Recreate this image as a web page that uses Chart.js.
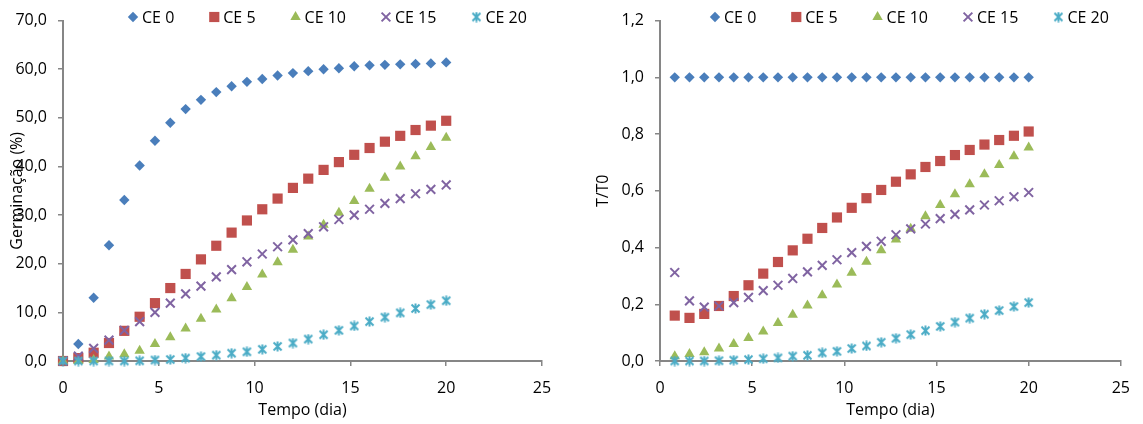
<!DOCTYPE html>
<html lang="pt">
<head>
<meta charset="utf-8">
<title>Germinação e T/T0 ao longo do tempo</title>
<script src="https://cdn.jsdelivr.net/npm/chart.js@4/dist/chart.umd.min.js"></script>
<style>
  html, body { margin: 0; padding: 0; background: #ffffff; }
  body { width: 1143px; height: 424px; position: relative; overflow: hidden; }
  canvas { position: absolute; top: 0; }
  #graficoGerminacao { left: 0; }
  #graficoRelativo { left: 571px; }
</style>
</head>
<body>
<canvas id="graficoGerminacao" width="571" height="424"></canvas>
<canvas id="graficoRelativo" width="572" height="424"></canvas>
<script>
// Tempo de avaliação (dias)
const dias = [0, 0.8, 1.6, 2.4, 3.2, 4.0, 4.8, 5.6, 6.4, 7.2, 8.0, 8.8, 9.6,
              10.4, 11.2, 12.0, 12.8, 13.6, 14.4, 15.2, 16.0, 16.8, 17.6, 18.4, 19.2, 20.0];
const diasRelativos = [0.8, 1.6, 2.4, 3.2, 4.0, 4.8, 5.6, 6.4, 7.2, 8.0, 8.8, 9.6,
              10.4, 11.2, 12.0, 12.8, 13.6, 14.4, 15.2, 16.0, 16.8, 17.6, 18.4, 19.2, 20.0];

// Nomes das séries (condutividade elétrica)
const series = ['CE 0', 'CE 5', 'CE 10', 'CE 15', 'CE 20'];

// Germinação acumulada (%)
const germCE0  = [0, 3.5, 13.0, 23.8, 33.1, 40.2, 45.3, 49.0, 51.8, 53.7, 55.3, 56.5, 57.4,
                  58.0, 58.7, 59.2, 59.6, 60.0, 60.2, 60.6, 60.8, 60.9, 61.0, 61.1, 61.2, 61.4];
const germCE5  = [0, 0.6, 1.7, 3.7, 6.2, 9.1, 11.9, 15.0, 17.9, 20.9, 23.7, 26.4, 28.9,
                  31.2, 33.4, 35.6, 37.5, 39.3, 40.9, 42.4, 43.8, 45.1, 46.3, 47.5, 48.4, 49.4];
const germCE10 = [0, 0, 0.2, 0.9, 1.4, 2.1, 3.5, 4.9, 6.7, 8.7, 10.6, 12.9, 15.2,
                  17.8, 20.3, 22.9, 25.6, 28.0, 30.5, 32.9, 35.4, 37.7, 40.0, 42.1, 44.0, 45.9];
const germCE15 = [0, 1.0, 2.6, 4.3, 6.3, 8.1, 10.0, 11.9, 13.8, 15.4, 17.3, 18.8, 20.4,
                  22.0, 23.5, 24.9, 26.2, 27.6, 29.1, 30.0, 31.2, 32.4, 33.4, 34.4, 35.3, 36.2];
const germCE20 = [0, 0, 0, 0, 0, 0.05, 0.2, 0.3, 0.6, 0.9, 1.2, 1.6, 1.9,
                  2.4, 3.0, 3.7, 4.5, 5.4, 6.3, 7.2, 8.1, 9.0, 9.9, 10.8, 11.6, 12.4];

// Germinação relativa ao controle (T/T0)
const relCE0  = [1, 1, 1, 1, 1, 1, 1, 1, 1, 1, 1, 1, 1, 1, 1, 1, 1, 1, 1, 1, 1, 1, 1, 1, 1];
const relCE5  = [0.160, 0.152, 0.166, 0.194, 0.229, 0.267, 0.308, 0.349, 0.390, 0.431, 0.469, 0.506,
                 0.540, 0.574, 0.603, 0.632, 0.658, 0.684, 0.705, 0.726, 0.744, 0.763, 0.779, 0.794, 0.809];
const relCE10 = [0.017, 0.025, 0.031, 0.044, 0.060, 0.081, 0.104, 0.134, 0.163, 0.196, 0.232, 0.270,
                 0.311, 0.350, 0.390, 0.428, 0.466, 0.510, 0.550, 0.588, 0.623, 0.658, 0.691, 0.722, 0.753];
const relCE15 = [0.312, 0.212, 0.190, 0.194, 0.206, 0.224, 0.248, 0.267, 0.291, 0.314, 0.337, 0.357,
                 0.382, 0.404, 0.422, 0.445, 0.466, 0.483, 0.502, 0.517, 0.533, 0.550, 0.565, 0.579, 0.594];
const relCE20 = [0, 0, 0, 0.001, 0.003, 0.005, 0.008, 0.011, 0.017, 0.020, 0.029, 0.034,
                 0.044, 0.053, 0.066, 0.080, 0.093, 0.107, 0.122, 0.137, 0.151, 0.165, 0.178, 0.192, 0.206];

// Ticks dos eixos
const ticksX = [0, 5, 10, 15, 20, 25];
const ticksGerm = [0, 10, 20, 30, 40, 50, 60, 70];
const ticksRel = [0, 0.2, 0.4, 0.6, 0.8, 1.0, 1.2];

const FONTE = '"Open Sans", "Liberation Sans", sans-serif';
const cores = ['#4a7ebb', '#c0504d', '#9bbb59', '#8064a2', '#4bacc6'];

// Marcador "asterisco" (X com traço vertical) para CE 20
function marcadorAsterisco(cor) {
  const c = document.createElement('canvas');
  c.width = 11; c.height = 11;
  const g = c.getContext('2d');
  g.strokeStyle = cor;
  g.lineWidth = 2;
  g.lineCap = 'butt';
  g.beginPath();
  g.moveTo(1.5, 1.5); g.lineTo(9.5, 9.5);
  g.moveTo(9.5, 1.5); g.lineTo(1.5, 9.5);
  g.moveTo(5.5, 0.5); g.lineTo(5.5, 10.5);
  g.stroke();
  return c;
}

const estilos = [
  { pointStyle: 'rectRot',  pointRadius: 5.2, borderWidth: 0 },
  { pointStyle: 'rect',     pointRadius: 7.2, borderWidth: 0 },
  { pointStyle: 'triangle', pointRadius: 6.0, borderWidth: 0 },
  { pointStyle: 'crossRot', pointRadius: 6.2, borderWidth: 2 },
  { pointStyle: marcadorAsterisco(cores[4]), pointRadius: 6, borderWidth: 0 }
];

function montarSeries(xs, listas) {
  return listas.map((ys, i) => ({
    label: series[i],
    data: xs.map((x, k) => ({ x: x, y: ys[k] })),
    pointStyle: estilos[i].pointStyle,
    pointRadius: estilos[i].pointRadius,
    pointHoverRadius: estilos[i].pointRadius,
    borderWidth: estilos[i].borderWidth,
    pointBorderWidth: estilos[i].borderWidth,
    backgroundColor: cores[i],
    borderColor: cores[i],
    showLine: false,
    clip: false,
    order: -i
  }));
}

// Legenda em linha, sobreposta ao topo da área do gráfico
const legendaSeries = {
  id: 'legendaSeries',
  afterDraw(chart, args, opts) {
    const ctx = chart.ctx;
    ctx.save();
    ctx.font = '16px ' + FONTE;
    ctx.textBaseline = 'middle';
    ctx.textAlign = 'left';
    let x = opts.x;
    const y = opts.y;
    chart.data.datasets.forEach((ds) => {
      ctx.fillStyle = ds.backgroundColor;
      ctx.strokeStyle = ds.borderColor;
      ctx.lineWidth = ds.pointBorderWidth || 0;
      Chart.helpers.drawPoint(ctx, {
        pointStyle: ds.pointStyle,
        radius: ds.pointRadius,
        rotation: 0,
        borderWidth: ds.pointBorderWidth
      }, x, y);
      ctx.fillStyle = '#000000';
      const tx = x + 9;
      ctx.fillText(ds.label, tx, y + 1);
      x = tx + ctx.measureText(ds.label).width + 40;
    });
    ctx.restore();
  }
};

function formatarVirgula(v) {
  return Number(v).toFixed(1).replace('.', ',');
}

function eixoX(altura) {
  return {
    type: 'linear',
    min: ticksX[0],
    max: ticksX[ticksX.length - 1],
    afterBuildTicks: (s) => { s.ticks = ticksX.map(v => ({ value: v })); },
    afterFit: (s) => { s.height = altura; },
    ticks: { color: '#000000', font: { family: FONTE, size: 16 }, padding: 13, maxRotation: 0 },
    grid: { drawOnChartArea: false, drawTicks: true, tickLength: 5, color: '#868686', lineWidth: 1.5 },
    border: { display: true, color: '#868686', width: 2 },
    title: {
      display: true, text: 'Tempo (dia)', color: '#000000',
      font: { family: FONTE, size: 16, lineHeight: 1 },
      padding: { top: 0, bottom: 6 }
    }
  };
}

function eixoY(lista, largura, titulo, recuoTitulo) {
  return {
    type: 'linear',
    min: lista[0],
    max: lista[lista.length - 1],
    afterBuildTicks: (s) => { s.ticks = lista.map(v => ({ value: v })); },
    afterFit: (s) => { s.width = largura; },
    ticks: { color: '#000000', font: { family: FONTE, size: 16 }, padding: 11, callback: formatarVirgula },
    grid: { drawOnChartArea: false, drawTicks: true, tickLength: 5, color: '#868686', lineWidth: 1.5 },
    border: { display: true, color: '#868686', width: 2 },
    title: {
      display: true, text: titulo, color: '#000000',
      font: { family: FONTE, size: 16, lineHeight: 1 },
      padding: { top: recuoTitulo, bottom: 0 }
    }
  };
}

function opcoesBase(padding, escalaY, legendaX) {
  return {
    responsive: false,
    animation: false,
    devicePixelRatio: 1,
    layout: { padding: padding },
    plugins: {
      legend: { display: false },
      tooltip: { enabled: false },
      legendaSeries: { x: legendaX, y: 17 }
    },
    scales: { x: eixoX(424 - 361), y: escalaY }
  };
}

new Chart(document.getElementById('graficoGerminacao'), {
  type: 'scatter',
  data: { datasets: montarSeries(dias, [germCE0, germCE5, germCE10, germCE15, germCE20]) },
  options: opcoesBase({ top: 17, right: 29, bottom: 0, left: 0 },
                      eixoY(ticksGerm, 63, 'Germinação (%)', 9), 133),
  plugins: [legendaSeries]
});

new Chart(document.getElementById('graficoRelativo'), {
  type: 'scatter',
  data: { datasets: montarSeries(diasRelativos, [relCE0, relCE5, relCE10, relCE15, relCE20]) },
  options: opcoesBase({ top: 18, right: 17, bottom: 0, left: 0 },
                      eixoY(ticksRel, 89, 'T/T0', 24), 144),
  plugins: [legendaSeries]
});
</script>
</body>
</html>
